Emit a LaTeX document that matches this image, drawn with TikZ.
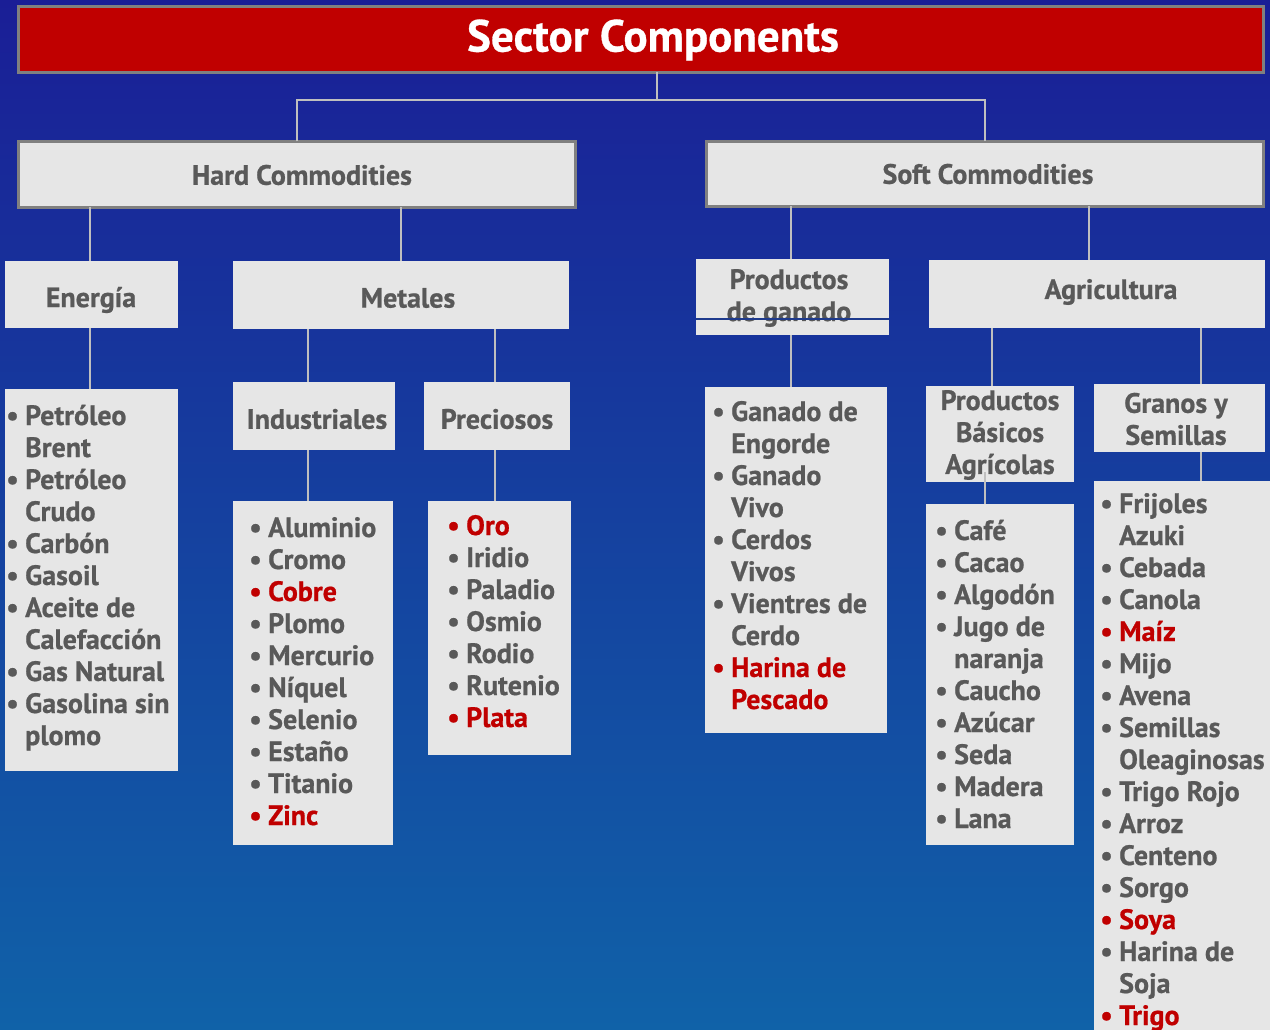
\documentclass[tikz,border=0pt]{standalone}
\usepackage{fontspec}
\setmainfont{PT Sans}[BoldFeatures={FakeBold=0.7}]
\definecolor{hdrgray}{HTML}{595959}
\definecolor{boxfill}{HTML}{E6E6E6}
\definecolor{titlered}{HTML}{C00000}
\definecolor{bordergray}{HTML}{808080}
\definecolor{connc}{HTML}{BFBFBF}
\definecolor{bgtop}{HTML}{1A1E96}
\definecolor{bgbot}{HTML}{1062A8}
\definecolor{itemred}{HTML}{C00000}
\definecolor{seam}{HTML}{1E3A8C}
\newcommand{\bi}[1]{\makebox[19pt][l]{\textbullet}#1}
\newcommand{\ri}[1]{\textcolor{itemred}{\makebox[19pt][l]{\textbullet}#1}}
\newcommand{\rc}[1]{\textcolor{itemred}{\hspace*{19pt}#1}}
\newcommand{\ci}[1]{\hspace*{19pt}#1}
\newcommand{\lst}[1]{\begin{tabular}[t]{@{}l@{}}#1\end{tabular}}
\begin{document}
\begin{tikzpicture}[x=1pt,y=-1pt,
  panel/.style={fill=boxfill, inner sep=0pt, outer sep=0pt, anchor=north west},
  framed/.style={panel, draw=bordergray, line width=3pt},
  hdr/.style={inner sep=0pt, text=hdrgray, font=\fontsize{28}{32}\selectfont\bfseries, align=center},
  conn/.style={draw=connc, line width=1.5pt},
  listtext/.style={anchor=base west, inner sep=0pt, text=hdrgray,
    font=\fontsize{28}{32}\selectfont\bfseries}]
\useasboundingbox (0,0) rectangle (1270,1030);
\shade[top color=bgtop, bottom color=bgbot] (0,0) rectangle (1270,1030);

% title
\node[framed, fill=titlered, minimum width=1245pt, minimum height=66pt] (title) at (18.5,6.5) {};
\node[inner sep=0pt, text=white, font=\fontsize{45}{48}\selectfont\bfseries] (titleT) at (653,40) {Sector Components};

% level 2
\node[framed, minimum width=557pt, minimum height=66pt] (hard) at (18.5,141.5) {};
\node[framed, minimum width=557pt, minimum height=65pt] (soft) at (706.5,141.5) {};
\node[hdr] (hardT) at (302,175) {Hard Commodities};
\node[hdr] (softT) at (988,174) {Soft Commodities};

% level 3
\node[panel, minimum width=173pt, minimum height=67pt] (energia) at (5,261) {};
\node[panel, minimum width=336pt, minimum height=68pt] (metales) at (233,261) {};
\node[panel, minimum width=193pt, minimum height=76pt] (pdg) at (696,259) {};
\node[panel, minimum width=336pt, minimum height=68pt] (agri) at (929,260) {};
\node[hdr] (energiaT0) at (91,300) {Energía};
\node[hdr] (metalesT0) at (408,298) {Metales};
\node[hdr] (pdgT0) at (789,298) {Productos\\de ganado};
\node[hdr] (agriT0) at (1111,292) {Agricultura};

% level 4
\node[panel, minimum width=162pt, minimum height=68pt] (ind) at (233,382) {};
\node[panel, minimum width=146pt, minimum height=68pt] (prec) at (424,382) {};
\node[panel, minimum width=148pt, minimum height=96pt] (pba) at (926,386) {};
\node[panel, minimum width=171pt, minimum height=68pt] (gran) at (1094,384) {};
\node[hdr] (indT0) at (317,419) {Industriales};
\node[hdr] (precT0) at (497,419) {Preciosos};
\node[hdr] (pbaT0) at (1000,435) {Productos\\Básicos\\Agrícolas};
\node[hdr] (granT0) at (1176,419) {Granos y\\Semillas};

% list boxes
\node[panel, minimum width=173pt, minimum height=382pt] (energiaL) at (5,389) {};
\node[panel, minimum width=160pt, minimum height=344pt] (indL) at (233,501) {};
\node[panel, minimum width=143pt, minimum height=254pt] (precL) at (428,501) {};
\node[panel, minimum width=182pt, minimum height=346pt] (ganL) at (705,387) {};
\node[panel, minimum width=148pt, minimum height=341pt] (pbaL) at (926,504) {};
\node[panel, minimum width=176pt, minimum height=560pt] (granL) at (1094,481) {};

% connectors
\coordinate (tj) at (657,100);
\draw[conn] (title.south -| tj) -- (tj);
\draw[conn] (hard.north) |- (tj) -| (soft.north);
\draw[conn] ([xshift=-1.5pt]energia.north) -- ([xshift=-1.5pt]energia.north |- hard.south);
\draw[conn] (metales.north) -- (metales.north |- hard.south);
\draw[conn] ([xshift=-1.5pt]pdg.north) -- ([xshift=-1.5pt]pdg.north |- soft.south);
\draw[conn] ([xshift=-8pt]agri.north) -- ([xshift=-8pt]agri.north |- soft.south);
\draw[conn] ([xshift=-1.5pt]energia.south) -- ([xshift=-1.5pt]energia.south |- energiaL.north);
\draw[conn] ([xshift=-6pt]ind.north) -- ([xshift=-6pt]ind.north |- metales.south);
\draw[conn] ([xshift=-2pt]prec.north) -- ([xshift=-2pt]prec.north |- metales.south);
\draw[conn] ([xshift=-6pt]ind.south) -- ([xshift=-6pt]ind.south |- indL.north);
\draw[conn] ([xshift=-2pt]prec.south) -- ([xshift=-2pt]prec.south |- precL.north);
\draw[conn] ([xshift=-1.5pt]pdg.south) -- ([xshift=-1.5pt]pdg.south |- ganL.north);
\draw[conn] ([xshift=-8pt]pba.north) -- ([xshift=-8pt]pba.north |- agri.south);
\draw[conn] ([xshift=21.5pt]gran.north) -- ([xshift=21.5pt]gran.north |- agri.south);
\draw[conn] ([xshift=-15pt]pbaL.north) -- ([xshift=-15pt,yshift=10pt]pba.south);
\draw[conn] ([xshift=21.5pt]gran.south) -- ([xshift=21.5pt]gran.south |- granL.north);

% seam line across Productos de ganado
\draw[seam, line width=1.2pt] ([yshift=16pt]pdg.south west) -- ([yshift=16pt]pdg.south east);

% list texts
\node[listtext] (energiaT) at (6,425) {\lst{\bi{Petróleo}\\ \ci{Brent}\\ \bi{Petróleo}\\ \ci{Crudo}\\ \bi{Carbón}\\ \bi{Gasoil}\\ \bi{Aceite de}\\ \ci{Calefacción}\\ \bi{Gas Natural}\\ \bi{Gasolina sin}\\ \ci{plomo}}};
\node[listtext] (indT) at (249,537) {\lst{\bi{Aluminio}\\ \bi{Cromo}\\ \ri{Cobre}\\ \bi{Plomo}\\ \bi{Mercurio}\\ \bi{Níquel}\\ \bi{Selenio}\\ \bi{Estaño}\\ \bi{Titanio}\\ \ri{Zinc}}};
\node[listtext] (precT) at (447,535) {\lst{\ri{Oro}\\ \bi{Iridio}\\ \bi{Paladio}\\ \bi{Osmio}\\ \bi{Rodio}\\ \bi{Rutenio}\\ \ri{Plata}}};
\node[listtext] (ganT) at (712,421) {\lst{\bi{Ganado de}\\ \ci{Engorde}\\ \bi{Ganado}\\ \ci{Vivo}\\ \bi{Cerdos}\\ \ci{Vivos}\\ \bi{Vientres de}\\ \ci{Cerdo}\\ \ri{Harina de}\\ \rc{Pescado}}};
\node[listtext] (pbaT) at (935,540) {\lst{\bi{Café}\\ \bi{Cacao}\\ \bi{Algodón}\\ \bi{Jugo de}\\ \ci{naranja}\\ \bi{Caucho}\\ \bi{Azúcar}\\ \bi{Seda}\\ \bi{Madera}\\ \bi{Lana}}};
\node[listtext] (granT) at (1100,513) {\lst{\bi{Frijoles}\\ \ci{Azuki}\\ \bi{Cebada}\\ \bi{Canola}\\ \ri{Maíz}\\ \bi{Mijo}\\ \bi{Avena}\\ \bi{Semillas}\\ \ci{Oleaginosas}\\ \bi{Trigo Rojo}\\ \bi{Arroz}\\ \bi{Centeno}\\ \bi{Sorgo}\\ \ri{Soya}\\ \bi{Harina de}\\ \ci{Soja}\\ \ri{Trigo}}};
\end{tikzpicture}
\end{document}
